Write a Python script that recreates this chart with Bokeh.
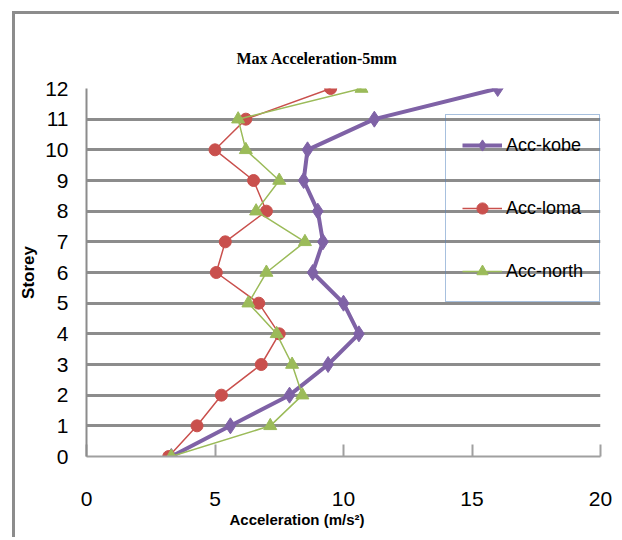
from bokeh.plotting import figure
from bokeh.models import Legend, LegendItem, FixedTicker, Range1d, Title
from bokeh.embed import file_html
from bokeh.resources import INLINE

# Storey levels and peak acceleration (m/s^2) for each record
storeys = [0, 1, 2, 3, 4, 5, 6, 7, 8, 9, 10, 11, 12]
acc_kobe = [3.3, 5.6, 7.9, 9.4, 10.6, 10.0, 8.8, 9.2, 9.0, 8.45, 8.6, 11.2, 16.0]
acc_loma = [3.2, 4.3, 5.25, 6.8, 7.5, 6.7, 5.05, 5.4, 7.0, 6.5, 5.0, 6.2, 9.5]
acc_north = [3.3, 7.15, 8.4, 8.0, 7.4, 6.3, 7.0, 8.5, 6.6, 7.5, 6.2, 5.9, 10.7]

x_ticks = [0, 5, 10, 15, 20]
y_ticks = storeys

NARROW = "'Liberation Sans Narrow', 'Liberation Sans', sans-serif"

# canvas sits inside a chart-area border drawn on its top/left edges
W, H = 607, 526
p = figure(width=W, height=H, output_backend="svg", toolbar_location=None,
           x_range=Range1d(0, 20), y_range=Range1d(0, 12),
           min_border_left=71, min_border_right=22,
           min_border_top=74, min_border_bottom=84)
p.margin = (11, 0, 0, 12)
p.styles = {"border-top": "3px solid #8c8c8c", "border-left": "3px solid #8c8c8c"}
p.outline_line_color = None
p.background_fill_color = "white"
p.border_fill_color = "white"

# chart title, placed from the frame's left edge
p.title.text = "Max Acceleration-5mm"
p.title.align = "left"
p.title.offset = 150
p.title.standoff = 44
p.title.text_font = "Liberation Serif"
p.title.text_font_style = "bold"
p.title.text_font_size = "16px"
p.title.text_color = "black"

# horizontal grid
p.xgrid.visible = False
p.ygrid.ticker = FixedTicker(ticks=y_ticks)
p.ygrid.grid_line_color = "#8c8c8c"
p.ygrid.grid_line_width = 3

# x axis
p.xaxis.ticker = FixedTicker(ticks=x_ticks)
p.xaxis.axis_line_color = "#a0a0a0"
p.xaxis.axis_line_width = 2
p.xaxis.major_tick_line_color = "#a0a0a0"
p.xaxis.major_tick_line_width = 2
p.xaxis.major_tick_in = 12
p.xaxis.major_tick_out = 0
p.xaxis.minor_tick_line_color = None
p.xaxis.major_label_standoff = 35
p.xaxis.major_label_text_font = NARROW
p.xaxis.major_label_text_font_size = "21px"
p.xaxis.major_label_text_color = "black"

# x-axis title sits left of centre, so it is a separate title below the axis
p.add_layout(Title(text="Acceleration (m/s²)", align="left", offset=143, standoff=1,
                   text_font=NARROW, text_font_style="bold",
                   text_font_size="15px", text_color="black"), "below")

# y axis
p.yaxis.ticker = FixedTicker(ticks=y_ticks)
p.yaxis.axis_line_color = "#8c8c8c"
p.yaxis.axis_line_width = 2
p.yaxis.major_tick_line_color = None
p.yaxis.major_tick_out = 0
p.yaxis.minor_tick_line_color = None
p.yaxis.major_label_standoff = 18
p.yaxis.major_label_text_font = NARROW
p.yaxis.major_label_text_font_size = "21px"
p.yaxis.major_label_text_color = "black"
p.yaxis.axis_label = "Storey"
p.yaxis.axis_label_standoff = 4
p.yaxis.axis_label_text_font = "Liberation Sans"
p.yaxis.axis_label_text_font_style = "bold"
p.yaxis.axis_label_text_font_size = "17px"
p.yaxis.axis_label_text_color = "black"

# series
r_kobe_l = p.line(acc_kobe, storeys, line_color="#7f62a6", line_width=4)
r_kobe_m = p.scatter(acc_kobe, storeys, marker="diamond", size=16,
                     fill_color="#7f62a6", line_color="#7f62a6")
r_loma_l = p.line(acc_loma, storeys, line_color="#c9504d", line_width=1.5)
r_loma_m = p.scatter(acc_loma, storeys, marker="circle", size=12,
                     fill_color="#c9504d", line_color="#c9504d")
r_north_l = p.line(acc_north, storeys, line_color="#9bbb59", line_width=1.5)
r_north_m = p.scatter(acc_north, storeys, marker="triangle", size=13,
                      fill_color="#9bbb59", line_color="#9bbb59")

legend = Legend(items=[
    LegendItem(label="Acc-kobe", renderers=[r_kobe_l, r_kobe_m]),
    LegendItem(label="Acc-loma", renderers=[r_loma_l, r_loma_m]),
    LegendItem(label="Acc-north", renderers=[r_north_l, r_north_m]),
], location=(359, 154))
legend.border_line_color = "#4f81bd"
legend.border_line_width = 1.5
legend.background_fill_alpha = 0
legend.padding = 16
legend.spacing = 35
legend.margin = 0
legend.glyph_width = 40
legend.glyph_height = 28
legend.label_height = 28
legend.label_standoff = 4
legend.label_text_font = NARROW
legend.label_text_font_size = "18px"
legend.label_text_color = "black"
p.add_layout(legend, "center")

open("out.html", "w").write(file_html(p, INLINE))
